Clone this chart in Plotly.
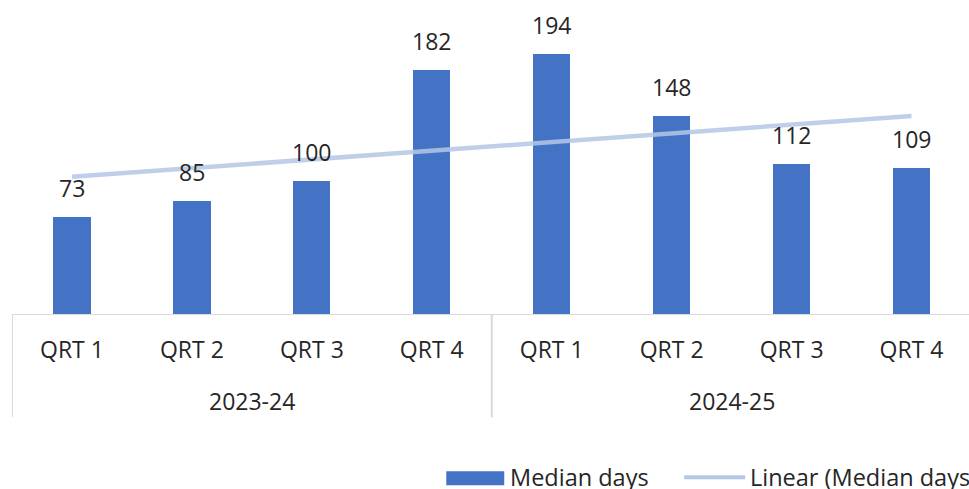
import numpy as np
import plotly.graph_objects as go

# Median days per quarter, grouped by financial year
years = ["2023-24", "2024-25"]
quarters = ["QRT 1", "QRT 2", "QRT 3", "QRT 4"]
median_days = [73, 85, 100, 182, 194, 148, 112, 109]

series_name = "Median days"
trend_name = "Linear (Median days)"

BAR_COLOR = "#4472C4"
TREND_COLOR = "#B4C7E7"
AXIS_COLOR = "#D9D9D9"
TEXT_COLOR = "#262626"
FONT = "Open Sans"
FS = 23
FS_LEGEND = 23.5

W, H = 969, 489
M_L, M_R, M_T, M_B = 11.5, 0, 5, 173.5
PLOT_W = W - M_L - M_R
PLOT_H = H - M_T - M_B

n = len(median_days)
xpos = np.arange(n)
ticktext = [q for _ in years for q in quarters]

# Least-squares linear trend over the category index
slope, intercept = np.polyfit(xpos + 1, median_days, 1)
trend = slope * (xpos + 1) + intercept


def px_x(px):
    return (px - M_L) / PLOT_W


def px_y(py):
    return (H - M_B - py) / PLOT_H


fig = go.Figure()
fig.add_trace(go.Bar(
    x=xpos, y=median_days, name=series_name,
    marker=dict(color=BAR_COLOR, line=dict(width=0)),
    width=0.31, showlegend=False,
))
fig.add_trace(go.Scatter(
    x=xpos, y=trend, name=trend_name, mode="lines",
    line=dict(color=TREND_COLOR, width=4.5), opacity=0.85,
    showlegend=False, hoverinfo="skip",
))

annotations = []
# value labels above bars
for xi, v in zip(xpos, median_days):
    annotations.append(dict(
        x=xi, y=v, xref="x", yref="y", text=str(v), showarrow=False,
        yanchor="middle", yshift=29,
        font=dict(family=FONT, size=FS, color=TEXT_COLOR),
    ))
# year group labels
for gi, yr in enumerate(years):
    annotations.append(dict(
        x=gi * len(quarters) + (len(quarters) - 1) / 2, y=px_y(402),
        xref="x", yref="paper", text=yr, showarrow=False,
        yanchor="middle",
        font=dict(family=FONT, size=FS, color=TEXT_COLOR),
    ))
# legend entries
annotations.append(dict(
    x=px_x(508), y=px_y(478), xref="paper", yref="paper", text=series_name,
    showarrow=False, xanchor="left", yanchor="middle",
    font=dict(family=FONT, size=FS_LEGEND, color=TEXT_COLOR),
))
annotations.append(dict(
    x=px_x(748), y=px_y(478), xref="paper", yref="paper", text=trend_name,
    showarrow=False, xanchor="left", yanchor="middle",
    font=dict(family=FONT, size=FS_LEGEND, color=TEXT_COLOR),
))

shapes = [
    # category axis line
    dict(type="line", xref="x", yref="y", x0=-0.5, x1=n - 0.5, y0=0, y1=0,
         line=dict(color=AXIS_COLOR, width=2)),
]
# outer and group divider lines of the category box
for gi in range(len(years)):
    xb = gi * len(quarters) - 0.5
    shapes.append(dict(type="line", xref="x", yref="paper", x0=xb, x1=xb,
                       y0=0, y1=px_y(418), line=dict(color=AXIS_COLOR, width=2)))
# legend keys
shapes.append(dict(type="rect", xref="paper", yref="paper",
                   x0=px_x(446), x1=px_x(504), y0=px_y(486), y1=px_y(472),
                   fillcolor=BAR_COLOR, line=dict(width=0)))
shapes.append(dict(type="line", xref="paper", yref="paper",
                   x0=px_x(684), x1=px_x(745), y0=px_y(478), y1=px_y(478),
                   line=dict(color=TREND_COLOR, width=4)))

fig.update_layout(
    width=W, height=H, autosize=False,
    margin=dict(l=M_L, r=M_R, t=M_T, b=M_B, pad=0),
    paper_bgcolor="white", plot_bgcolor="white",
    showlegend=False,
    bargap=0,
    annotations=annotations,
    shapes=shapes,
    xaxis=dict(
        range=[-0.5, -0.5 + PLOT_W / 120.0],
        tickmode="array", tickvals=list(xpos), ticktext=ticktext,
        showgrid=False, zeroline=False, showline=False, ticks="",
        tickfont=dict(family=FONT, size=FS, color=TEXT_COLOR),
        ticklabelstandoff=19,
    ),
    yaxis=dict(
        range=[0, PLOT_H / 1.347],
        visible=False, showgrid=False, zeroline=False,
    ),
)

fig.write_html("out.html")
